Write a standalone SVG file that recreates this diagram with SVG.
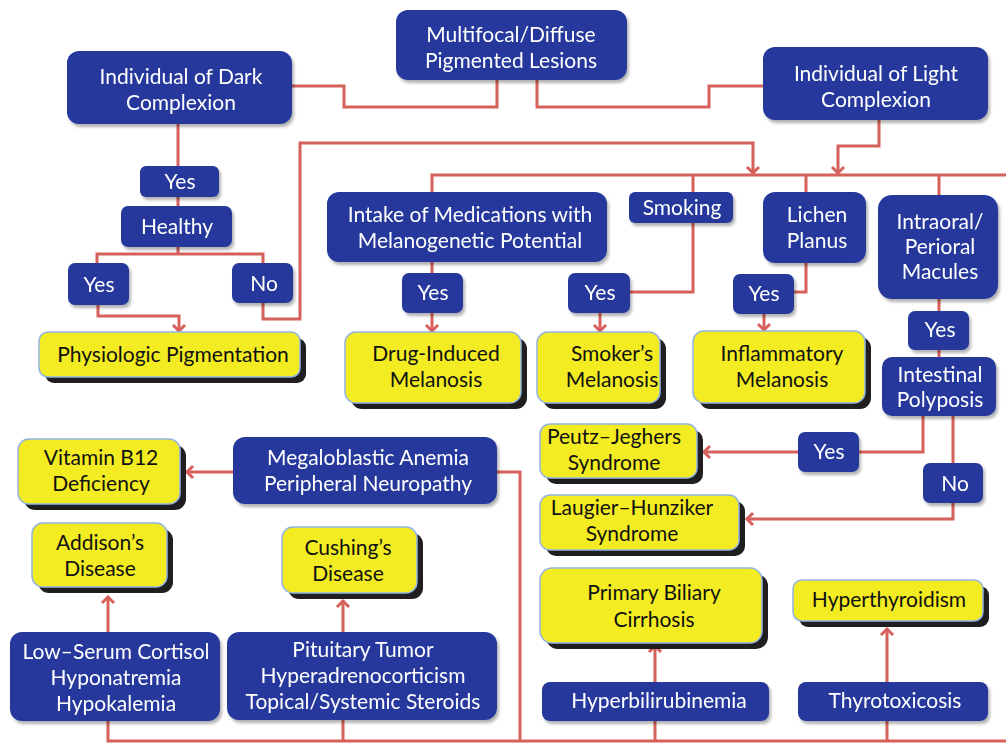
<svg xmlns="http://www.w3.org/2000/svg" width="1006" height="743" viewBox="0 0 1006 743">
  <style>
    .bl rect { fill: #25399c; }
    .bl text { fill: #ffffff; }
    .ye .sh { fill: #1f1f22; }
    .ye .bx { fill: #f3ec22; stroke: #93b4e2; stroke-width: 1.5; }
    .ye text { fill: #111111; }
    text { font-family: Lato, "Open Sans", "Liberation Sans", sans-serif; font-size: 21px; text-anchor: middle; }
    .bl { filter: url(#soft); }
    #connectors path { fill: none; stroke: #d6605a; stroke-width: 3; }
    .arr { marker-end: url(#head); }
  </style>
  <defs>
    <filter id="soft" x="-10%" y="-10%" width="130%" height="140%">
      <feDropShadow dx="2" dy="3" stdDeviation="1.5" flood-color="#000" flood-opacity="0.3"/>
    </filter>
    <marker id="head" viewBox="-10 -8 12 16" markerWidth="12" markerHeight="16" refX="0" refY="0" markerUnits="userSpaceOnUse" orient="auto">
      <path d="M-7,-6 L-1,0 L-7,6" fill="none" stroke="#d6605a" stroke-width="3"/>
    </marker>
  </defs>
  <rect width="1006" height="743" fill="#ffffff"/>

  <g id="connectors">
    <path d="M292,86 H344 V107 H497 V80"/>
    <path d="M537,80 V107 H709 V86 H763"/>
    <path class="arr" d="M879,120 V146 H838 V174"/>
    <path class="arr" d="M263,303 V319 H300 V143 H753 V174"/>
    <path d="M432,192 V175 H1006"/>
    <path d="M693,175 V193"/>
    <path d="M806,175 V192"/>
    <path d="M939,175 V195"/>
    <path d="M178,124 V166"/>
    <path d="M178,197 V206"/>
    <path d="M178,247 V254"/>
    <path d="M97,263 V254 H263 V263"/>
    <path class="arr" d="M98,305 V316 H179 V332"/>
    <path d="M432,262 V273"/>
    <path class="arr" d="M432,313 V332"/>
    <path d="M693,223 V292 H630"/>
    <path class="arr" d="M600,313 V332"/>
    <path d="M806,263 V292 H794"/>
    <path class="arr" d="M764,314 V331"/>
    <path d="M939,299 V311"/>
    <path d="M939,350 V357"/>
    <path d="M923,416 V452 H859"/>
    <path class="arr" d="M798,452 H703"/>
    <path d="M953,416 V463"/>
    <path class="arr" d="M953,503 V519 H746"/>
    <path class="arr" d="M233,472 H186"/>
    <path d="M497,472 H520 V741"/>
    <path d="M108,721 V741 H1006"/>
    <path class="arr" d="M108,632 V596"/>
    <path d="M343,720 V741"/>
    <path class="arr" d="M343,632 V600"/>
    <path d="M655,721 V741"/>
    <path class="arr" d="M655,682 V645"/>
    <path d="M887,721 V741"/>
    <path class="arr" d="M887,682 V628"/>
  </g>

  <!-- top row -->
  <g id="multifocal" class="bl">
    <rect x="396" y="10" width="231" height="70" rx="12"/>
    <text x="511" y="42">Multifocal/Diffuse</text>
    <text x="511" y="68">Pigmented Lesions</text>
  </g>
  <g id="dark" class="bl">
    <rect x="67" y="51" width="225" height="73" rx="12"/>
    <text x="181" y="84">Individual of Dark</text>
    <text x="181" y="110">Complexion</text>
  </g>
  <g id="light" class="bl">
    <rect x="763" y="47" width="225" height="73" rx="12"/>
    <text x="876" y="81">Individual of Light</text>
    <text x="876" y="107">Complexion</text>
  </g>

  <!-- dark complexion branch -->
  <g id="dark-yes" class="bl">
    <rect x="140" y="166" width="79" height="31" rx="6"/>
    <text x="180" y="189">Yes</text>
  </g>
  <g id="healthy" class="bl">
    <rect x="121" y="206" width="111" height="41" rx="7"/>
    <text x="177" y="234">Healthy</text>
  </g>
  <g id="healthy-yes" class="bl">
    <rect x="68" y="263" width="61" height="42" rx="7"/>
    <text x="99" y="292">Yes</text>
  </g>
  <g id="healthy-no" class="bl">
    <rect x="232" y="263" width="61" height="40" rx="7"/>
    <text x="264" y="291">No</text>
  </g>
  <g id="physiologic" class="ye">
    <rect class="sh" x="45" y="338" width="261" height="45" rx="9"/>
    <rect class="bx" x="39" y="332" width="261" height="45" rx="9"/>
    <text x="173" y="362">Physiologic Pigmentation</text>
  </g>

  <!-- second row -->
  <g id="medications" class="bl">
    <rect x="327" y="192" width="280" height="70" rx="12"/>
    <text x="470" y="222">Intake of Medications with</text>
    <text x="470" y="248">Melanogenetic Potential</text>
  </g>
  <g id="smoking" class="bl">
    <rect x="629" y="192" width="104" height="31" rx="6"/>
    <text x="682" y="215">Smoking</text>
  </g>
  <g id="lichen" class="bl">
    <rect x="763" y="192" width="103" height="71" rx="12"/>
    <text x="817" y="222">Lichen</text>
    <text x="817" y="248">Planus</text>
  </g>
  <g id="intraoral" class="bl">
    <rect x="878" y="195" width="120" height="104" rx="14"/>
    <text x="940" y="229">Intraoral/</text>
    <text x="940" y="254">Perioral</text>
    <text x="940" y="279">Macules</text>
  </g>

  <g id="med-yes" class="bl">
    <rect x="402" y="273" width="61" height="40" rx="7"/>
    <text x="433" y="300">Yes</text>
  </g>
  <g id="smoke-yes" class="bl">
    <rect x="568" y="273" width="62" height="40" rx="7"/>
    <text x="600" y="300">Yes</text>
  </g>
  <g id="lichen-yes" class="bl">
    <rect x="733" y="274" width="61" height="40" rx="7"/>
    <text x="764" y="301">Yes</text>
  </g>
  <g id="macules-yes" class="bl">
    <rect x="908" y="311" width="61" height="39" rx="7"/>
    <text x="940" y="337">Yes</text>
  </g>
  <g id="polyposis" class="bl">
    <rect x="882" y="357" width="114" height="59" rx="10"/>
    <text x="940" y="382">Intestinal</text>
    <text x="940" y="407">Polyposis</text>
  </g>

  <g id="drug" class="ye">
    <rect class="sh" x="351" y="338" width="176" height="71" rx="11"/>
    <rect class="bx" x="345" y="332" width="176" height="71" rx="11"/>
    <text x="436" y="361">Drug-Induced</text>
    <text x="436" y="387">Melanosis</text>
  </g>
  <g id="smoker" class="ye">
    <rect class="sh" x="543" y="338" width="123" height="71" rx="11"/>
    <rect class="bx" x="537" y="332" width="123" height="71" rx="11"/>
    <text x="612" y="361">Smoker’s</text>
    <text x="612" y="387">Melanosis</text>
  </g>
  <g id="inflammatory" class="ye">
    <rect class="sh" x="699" y="337" width="172" height="72" rx="11"/>
    <rect class="bx" x="693" y="331" width="172" height="72" rx="11"/>
    <text x="782" y="361">Inflammatory</text>
    <text x="782" y="387">Melanosis</text>
  </g>

  <!-- polyposis branch -->
  <g id="poly-yes" class="bl">
    <rect x="798" y="432" width="61" height="40" rx="7"/>
    <text x="829" y="459">Yes</text>
  </g>
  <g id="poly-no" class="bl">
    <rect x="923" y="463" width="60" height="40" rx="7"/>
    <text x="955" y="491">No</text>
  </g>
  <g id="peutz" class="ye">
    <rect class="sh" x="546" y="430" width="157" height="54" rx="10"/>
    <rect class="bx" x="540" y="424" width="157" height="54" rx="10"/>
    <text x="614" y="444">Peutz–Jeghers</text>
    <text x="614" y="470">Syndrome</text>
  </g>
  <g id="laugier" class="ye">
    <rect class="sh" x="546" y="501" width="199" height="55" rx="10"/>
    <rect class="bx" x="540" y="495" width="199" height="55" rx="10"/>
    <text x="632" y="515">Laugier–Hunziker</text>
    <text x="632" y="541">Syndrome</text>
  </g>

  <!-- lower left -->
  <g id="b12" class="ye">
    <rect class="sh" x="24" y="445" width="162" height="65" rx="11"/>
    <rect class="bx" x="18" y="439" width="162" height="65" rx="11"/>
    <text x="101" y="465">Vitamin B12</text>
    <text x="101" y="491">Deficiency</text>
  </g>
  <g id="megaloblastic" class="bl">
    <rect x="233" y="437" width="264" height="67" rx="12"/>
    <text x="368" y="465">Megaloblastic Anemia</text>
    <text x="368" y="491">Peripheral Neuropathy</text>
  </g>
  <g id="addison" class="ye">
    <rect class="sh" x="38" y="529" width="135" height="64" rx="11"/>
    <rect class="bx" x="32" y="523" width="135" height="64" rx="11"/>
    <text x="100" y="550">Addison’s</text>
    <text x="100" y="576">Disease</text>
  </g>
  <g id="cushing" class="ye">
    <rect class="sh" x="288" y="533" width="135" height="66" rx="11"/>
    <rect class="bx" x="282" y="527" width="135" height="66" rx="11"/>
    <text x="348" y="555">Cushing’s</text>
    <text x="348" y="581">Disease</text>
  </g>
  <g id="cortisol" class="bl">
    <rect x="10" y="632" width="210" height="89" rx="12"/>
    <text x="116" y="659">Low–Serum Cortisol</text>
    <text x="116" y="685">Hyponatremia</text>
    <text x="116" y="711">Hypokalemia</text>
  </g>
  <g id="pituitary" class="bl">
    <rect x="227" y="632" width="270" height="88" rx="12"/>
    <text x="363" y="657">Pituitary Tumor</text>
    <text x="363" y="683">Hyperadrenocorticism</text>
    <text x="363" y="709">Topical/Systemic Steroids</text>
  </g>

  <!-- lower right -->
  <g id="biliary" class="ye">
    <rect class="sh" x="546" y="574" width="222" height="75" rx="12"/>
    <rect class="bx" x="540" y="568" width="222" height="75" rx="12"/>
    <text x="654" y="600">Primary Biliary</text>
    <text x="654" y="627">Cirrhosis</text>
  </g>
  <g id="hyperthyroidism" class="ye">
    <rect class="sh" x="799" y="586" width="190" height="41" rx="9"/>
    <rect class="bx" x="793" y="580" width="190" height="41" rx="9"/>
    <text x="889" y="607">Hyperthyroidism</text>
  </g>
  <g id="hyperbilirubinemia" class="bl">
    <rect x="542" y="682" width="227" height="39" rx="8"/>
    <text x="659" y="708">Hyperbilirubinemia</text>
  </g>
  <g id="thyrotoxicosis" class="bl">
    <rect x="798" y="682" width="190" height="39" rx="8"/>
    <text x="895" y="708">Thyrotoxicosis</text>
  </g>
</svg>
